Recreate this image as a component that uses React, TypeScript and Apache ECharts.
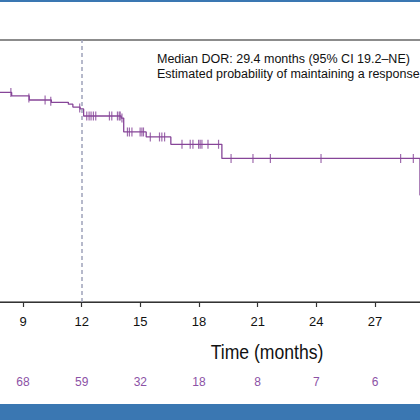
import React, { useEffect, useRef } from "react";
import * as echarts from "echarts";

// Kaplan-Meier step curve (months, probability)
const curveMonths = [7.5, 8.42, 9.32, 10.45, 11.32, 11.55, 11.92, 12.1, 14.02, 14.15, 15.3, 16.56, 19.17, 29.3, 30.5];
const curveValues = [0.8, 0.787, 0.771, 0.762, 0.755, 0.744, 0.737, 0.71, 0.702, 0.649, 0.63, 0.602, 0.548, 0.408, 0.408];

// Censor marks
const censorMonths = [
  8.38, 9.3, 10.13, 10.42, 11.9,
  12.26, 12.38, 12.48, 12.6, 12.72, 13.42, 13.54, 13.83, 13.92, 13.97, 14.06,
  14.34, 14.44, 14.57, 14.99, 15.08, 15.16,
  15.51, 15.98, 16.1, 16.24,
  17.13, 17.55, 17.69, 17.98, 18.06, 18.15, 18.46, 19.0,
  19.64, 20.76, 21.65, 24.24, 28.31, 28.96,
];
const censorValues = [
  0.8, 0.779, 0.771, 0.766, 0.74,
  0.71, 0.71, 0.71, 0.71, 0.71, 0.71, 0.71, 0.71, 0.71, 0.71, 0.702,
  0.649, 0.649, 0.649, 0.649, 0.649, 0.649,
  0.63, 0.63, 0.63, 0.63,
  0.602, 0.602, 0.602, 0.602, 0.602, 0.602, 0.602, 0.602,
  0.548, 0.548, 0.548, 0.548, 0.548, 0.548,
];

// Axis tick labels visible in the picture
const tickMonths = [9, 12, 15, 18, 21, 24, 27];
// Number at risk under those ticks
const riskCounts = [68, 59, 32, 18, 8, 7, 6];

const annotationLines = [
  "Median DOR: 29.4 months (95% CI 19.2\u2013NE)",
  "Estimated probability of maintaining a response",
];
const axisTitle = "Time (months)";

const PURPLE = "#864598";
const RISK_PURPLE = "#8c52a6";
const BLUE = "#3a77b2";
const SHIFT = 200; // the chart canvas extends 200px left of the visible window

export default function App() {
  const ref = useRef<HTMLDivElement>(null);

  useEffect(() => {
    if (!ref.current) return;
    const chart = echarts.init(ref.current, undefined, { renderer: "svg" });
    const curve = curveMonths.map((m, i) => [m, curveValues[i]]);
    const censors = censorMonths.map((m, i) => [m, censorValues[i]]);
    const tickLabel = (v: number) => {
      const i = tickMonths.indexOf(v);
      return i >= 0 ? String(tickMonths[i]) : "";
    };
    const riskLabel = (v: number) => {
      const i = tickMonths.indexOf(v);
      return i >= 0 ? String(riskCounts[i]) : "";
    };

    chart.setOption({
      animation: false,
      backgroundColor: "#ffffff",
      grid: {
        left: SHIFT - 153,
        width: 704,
        top: 40,
        bottom: 118,
        show: true,
        borderColor: "#1a1a1a",
        borderWidth: 1.2,
        backgroundColor: "transparent",
      },
      xAxis: [
        {
          type: "value",
          min: 0,
          max: 36,
          interval: 3,
          position: "bottom",
          axisLine: { show: true, lineStyle: { color: "#333", width: 1.2 } },
          axisTick: { show: true, length: 5, lineStyle: { color: "#333", width: 1.2 } },
          axisLabel: {
            formatter: tickLabel,
            color: "#111",
            fontSize: 13,
            margin: 13,
            fontFamily: "Liberation Sans, Arial, sans-serif",
          },
          splitLine: { show: false },
        },
        {
          type: "value",
          min: 0,
          max: 36,
          interval: 3,
          position: "bottom",
          offset: 60,
          axisLine: { show: false },
          axisTick: { show: false },
          axisLabel: {
            formatter: riskLabel,
            color: RISK_PURPLE,
            fontSize: 12,
            margin: 14,
            fontFamily: "Liberation Sans, Arial, sans-serif",
          },
          splitLine: { show: false },
        },
      ],
      yAxis: {
        type: "value",
        min: 0,
        max: 1,
        show: false,
      },
      series: [
        {
          type: "line",
          step: "end",
          data: curve,
          showSymbol: false,
          lineStyle: { color: PURPLE, width: 1.3 },
          itemStyle: { color: PURPLE },
          clip: true,
          markLine: {
            silent: true,
            symbol: "none",
            label: { show: false },
            lineStyle: { color: "#9ea3ba", width: 1.5, type: [4, 3] },
            data: [{ xAxis: 12 }],
          },
        },
        {
          type: "scatter",
          data: censors,
          symbol: "rect",
          symbolSize: [1.2, 9],
          itemStyle: { color: PURPLE },
        },
      ],
      graphic: [
        {
          type: "rect",
          shape: { x: SHIFT, y: 0, width: 420, height: 2 },
          style: { fill: BLUE },
        },
        {
          type: "rect",
          shape: { x: SHIFT, y: 404, width: 420, height: 16 },
          style: { fill: BLUE },
        },
        {
          type: "text",
          x: SHIFT + 157,
          y: 59,
          style: {
            text: annotationLines[0],
            fill: "#111",
            fontSize: 12.5,
            fontFamily: "Liberation Sans, Arial, sans-serif",
            verticalAlign: "middle",
          },
        },
        {
          type: "text",
          x: SHIFT + 157,
          y: 74,
          style: {
            text: annotationLines[1],
            fill: "#111",
            fontSize: 12.5,
            fontFamily: "Liberation Sans, Arial, sans-serif",
            verticalAlign: "middle",
          },
        },
        {
          type: "text",
          x: SHIFT + 267,
          y: 352,
          scaleX: 0.88,
          style: {
            text: axisTitle,
            fill: "#111",
            fontSize: 20,
            fontFamily: "Liberation Sans, Arial, sans-serif",
            align: "center",
            verticalAlign: "middle",
          },
        },
      ],
    });
    return () => chart.dispose();
  }, []);

  return (
    <div
      style={{ position: "absolute", left: 0, top: 0, width: 420, height: 420, overflow: "hidden", background: "#fff" }}
    >
      <div ref={ref} style={{ position: "absolute", left: -SHIFT, top: 0, width: 800, height: 420 }} />
    </div>
  );
}
